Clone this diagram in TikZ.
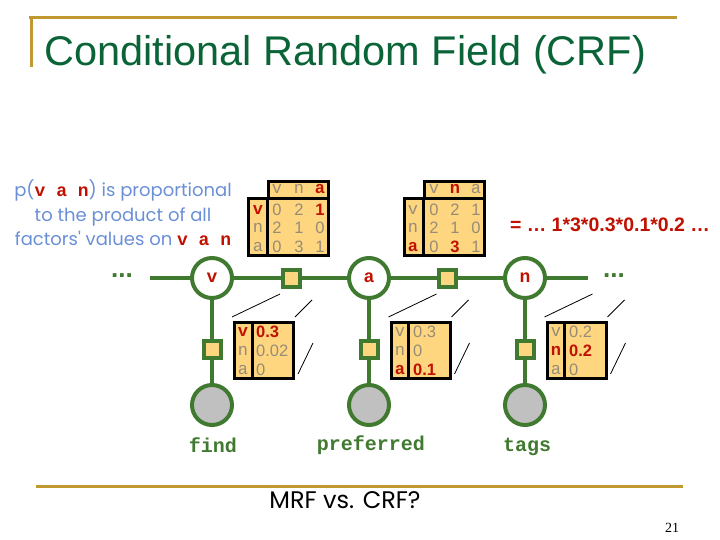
\documentclass[tikz,border=0pt]{standalone}
\usepackage{fontspec}
\setmainfont{Liberation Sans}
\setmonofont{Liberation Mono}
\newfontfamily\comicfont{Poppins}
\newfontfamily\timesfont{Liberation Serif}
\usetikzlibrary{calc}

\definecolor{titlegreen}{RGB}{10,100,55}
\definecolor{gold}{RGB}{192,154,48}
\definecolor{linegreen}{RGB}{64,122,48}
\definecolor{facfill}{RGB}{255,214,128}
\definecolor{hired}{RGB}{192,16,0}
\definecolor{tabgray}{RGB}{150,140,120}
\definecolor{comicblue}{RGB}{106,143,214}
\definecolor{obsgray}{RGB}{192,192,192}

\tikzset{
  varnode/.style={circle,draw=linegreen,line width=4pt,fill=white,minimum size=40pt,inner sep=0pt,
    font=\fontsize{18}{18}\ttfamily\bfseries,text=hired},
  obsnode/.style={circle,draw=linegreen,line width=4pt,fill=obsgray,minimum size=40pt,inner sep=0pt},
  facnode/.style={rectangle,draw=linegreen,line width=4pt,fill=facfill,minimum size=17pt,inner sep=0pt},
  chain/.style={draw=linegreen,line width=4pt},
  wordlabel/.style={font=\fontsize{20}{20}\ttfamily\bfseries,text=linegreen},
  dotsnode/.style={font=\fontsize{26}{26}\bfseries,text=linegreen,inner sep=0pt},
  tabbox/.style={rectangle,draw=black,line width=3pt,fill=facfill,inner sep=0pt},
  tabval/.style={font=\fontsize{16.5}{16.5}\selectfont,text=tabgray,inner sep=0pt},
  tablab/.style={font=\fontsize{17}{17}\ttfamily,text=tabgray,inner sep=0pt},
  hival/.style={font=\fontsize{16.5}{16.5}\bfseries,text=hired,inner sep=0pt},
  hilab/.style={font=\fontsize{17}{17}\ttfamily\bfseries,text=hired,inner sep=0pt},
  zoomline/.style={draw=black,line width=0.8pt},
}

\begin{document}
\begin{tikzpicture}[x=1pt,y=-1pt]
\useasboundingbox (0,0) rectangle (720,540);

% slide frame and title
\draw[gold,line width=3pt] (29,18) -- (677,18);
\draw[gold,line width=3pt] (31,18) -- (31,67);
\draw[gold,line width=3pt] (36,486) -- (683,486);
\node[anchor=base west,inner sep=0pt,text=titlegreen,font=\fontsize{41.5}{42}\selectfont] (title) at (44,66)
  {Conditional Random Field (CRF)};

% explanation on the left
\node[align=center,text=comicblue,font=\fontsize{18}{24.5}\comicfont,inner sep=0pt] (expl) at (123,213)
  {p({\ttfamily\bfseries\color{hired}v a n}) is proportional\\
   to the product of all\\
   factors' values on {\ttfamily\bfseries\color{hired}v a n}};

% chain of tags
\coordinate (lend) at (150,278);
\coordinate (rend) at (588,278);
\node[dotsnode] (ldots) at (122,276) {...};
\node[dotsnode] (rdots) at (614,276) {...};
\node[varnode] (v) at (212,278) {v};
\node[facnode] (fva) at (291,278) {};
\node[varnode] (a) at (369,278) {a};
\node[facnode] (fan) at (447,278) {};
\node[varnode] (n) at (525,278) {n};
\draw[chain] (lend) -- (v) -- (fva) -- (a) -- (fan) -- (n) -- (rend);

% observed words
\node[facnode] (fv) at (212,349) {};
\node[facnode] (fa) at (369,349) {};
\node[facnode] (fn) at (525,349) {};
\node[obsnode] (wv) at (212,405) {};
\node[obsnode] (wa) at (369,405) {};
\node[obsnode] (wn) at (525,405) {};
\draw[chain] (v) -- (fv) -- (wv);
\draw[chain] (a) -- (fa) -- (wa);
\draw[chain] (n) -- (fn) -- (wn);
\node[wordlabel] (find) at (213,445) {find};
\node[wordlabel] (preferred) at (371,445) {preferred};
\node[wordlabel] (tags) at (527,447) {tags};

% factor table v -> a
\node[tabbox,minimum width=60pt,minimum height=17pt] (vahead) at (298.5,190) {};
\node[tabbox,minimum width=80pt,minimum height=57pt] (vabody) at (288.5,227) {};
\draw[line width=3pt] (vahead.south west) -- (vahead.south west |- vabody.south);
\node[tablab] (vah1) at (277,189) {v};
\node[tablab] (vah2) at (299,189) {n};
\node[hilab]  (vah3) at (320,189) {a};
\node[hilab]  (var1) at (258,210) {v};
\node[tablab] (var2) at (258,228) {n};
\node[tablab] (var3) at (258,247) {a};
\node[tabval] (va11) at (277,210) {0};
\node[tabval] (va12) at (299,210) {2};
\node[hival]  (va13) at (320,210) {1};
\node[tabval] (va21) at (277,228) {2};
\node[tabval] (va22) at (299,228) {1};
\node[tabval] (va23) at (320,228) {0};
\node[tabval] (va31) at (277,247) {0};
\node[tabval] (va32) at (299,247) {3};
\node[tabval] (va33) at (320,247) {1};

% factor table a -> n
\node[tabbox,minimum width=60pt,minimum height=17pt] (anhead) at (454.5,190) {};
\node[tabbox,minimum width=80pt,minimum height=57pt] (anbody) at (444.5,227) {};
\draw[line width=3pt] (anhead.south west) -- (anhead.south west |- anbody.south);
\node[tablab] (anh1) at (434,189) {v};
\node[hilab]  (anh2) at (455,189) {n};
\node[tablab] (anh3) at (476,189) {a};
\node[tablab] (anr1) at (413,210) {v};
\node[tablab] (anr2) at (413,228) {n};
\node[hilab]  (anr3) at (413,247) {a};
\node[tabval] (an11) at (434,210) {0};
\node[tabval] (an12) at (455,210) {2};
\node[tabval] (an13) at (476,210) {1};
\node[tabval] (an21) at (434,228) {2};
\node[tabval] (an22) at (455,228) {1};
\node[tabval] (an23) at (476,228) {0};
\node[tabval] (an31) at (434,247) {0};
\node[hival]  (an32) at (455,247) {3};
\node[tabval] (an33) at (476,247) {1};

\node[text=hired,font=\fontsize{19.5}{19.5}\bfseries,inner sep=0pt] (product) at (610,225)
  {= \dots\ 1*3*0.3*0.1*0.2 \dots};

% emission tables
\node[tabbox,minimum width=59pt,minimum height=56pt] (findtab) at (264,350.5) {};
\node[tabbox,minimum width=59pt,minimum height=56pt] (preftab) at (420.5,350.5) {};
\node[tabbox,minimum width=59pt,minimum height=56pt] (tagstab) at (576.5,350.5) {};
\foreach \t in {findtab,preftab,tagstab}{
  \draw[line width=3pt] ($(\t.north west)+(19,0)$) -- ($(\t.south west)+(19,0)$);
  \draw[zoomline] ($(\t.north west)+(-1,-4)$) -- ++(48,-23);
  \draw[zoomline] ($(\t.north east)+(0,-4)$) -- ++(17,-17);
  \draw[zoomline] ($(\t.south east)+(3,-6)$) -- ++(15,-31);
}
\node[hilab]  (fl1) at (243,332) {v};
\node[tablab] (fl2) at (243,351) {n};
\node[tablab] (fl3) at (243,370) {a};
\node[hival,anchor=west]  (fv1) at (256,332) {0.3};
\node[tabval,anchor=west] (fv2) at (256,351) {0.02};
\node[tabval,anchor=west] (fv3) at (256,370) {0};
\node[tablab] (pl1) at (400,332) {v};
\node[tablab] (pl2) at (400,351) {n};
\node[hilab]  (pl3) at (400,370) {a};
\node[tabval,anchor=west] (pv1) at (413,332) {0.3};
\node[tabval,anchor=west] (pv2) at (413,351) {0};
\node[hival,anchor=west]  (pv3) at (413,370) {0.1};
\node[tablab] (tl1) at (556,332) {v};
\node[hilab]  (tl2) at (556,351) {n};
\node[tablab] (tl3) at (556,370) {a};
\node[tabval,anchor=west] (tv1) at (569,332) {0.2};
\node[hival,anchor=west]  (tv2) at (569,351) {0.2};
\node[tabval,anchor=west] (tv3) at (569,370) {0};

% bottom
\node[font=\fontsize{24}{24}\comicfont,inner sep=0pt] (question) at (345,500) {MRF vs. CRF?};
\node[font=\fontsize{14}{14}\timesfont,inner sep=0pt] (pagenum) at (672,528) {21};
\end{tikzpicture}
\end{document}
